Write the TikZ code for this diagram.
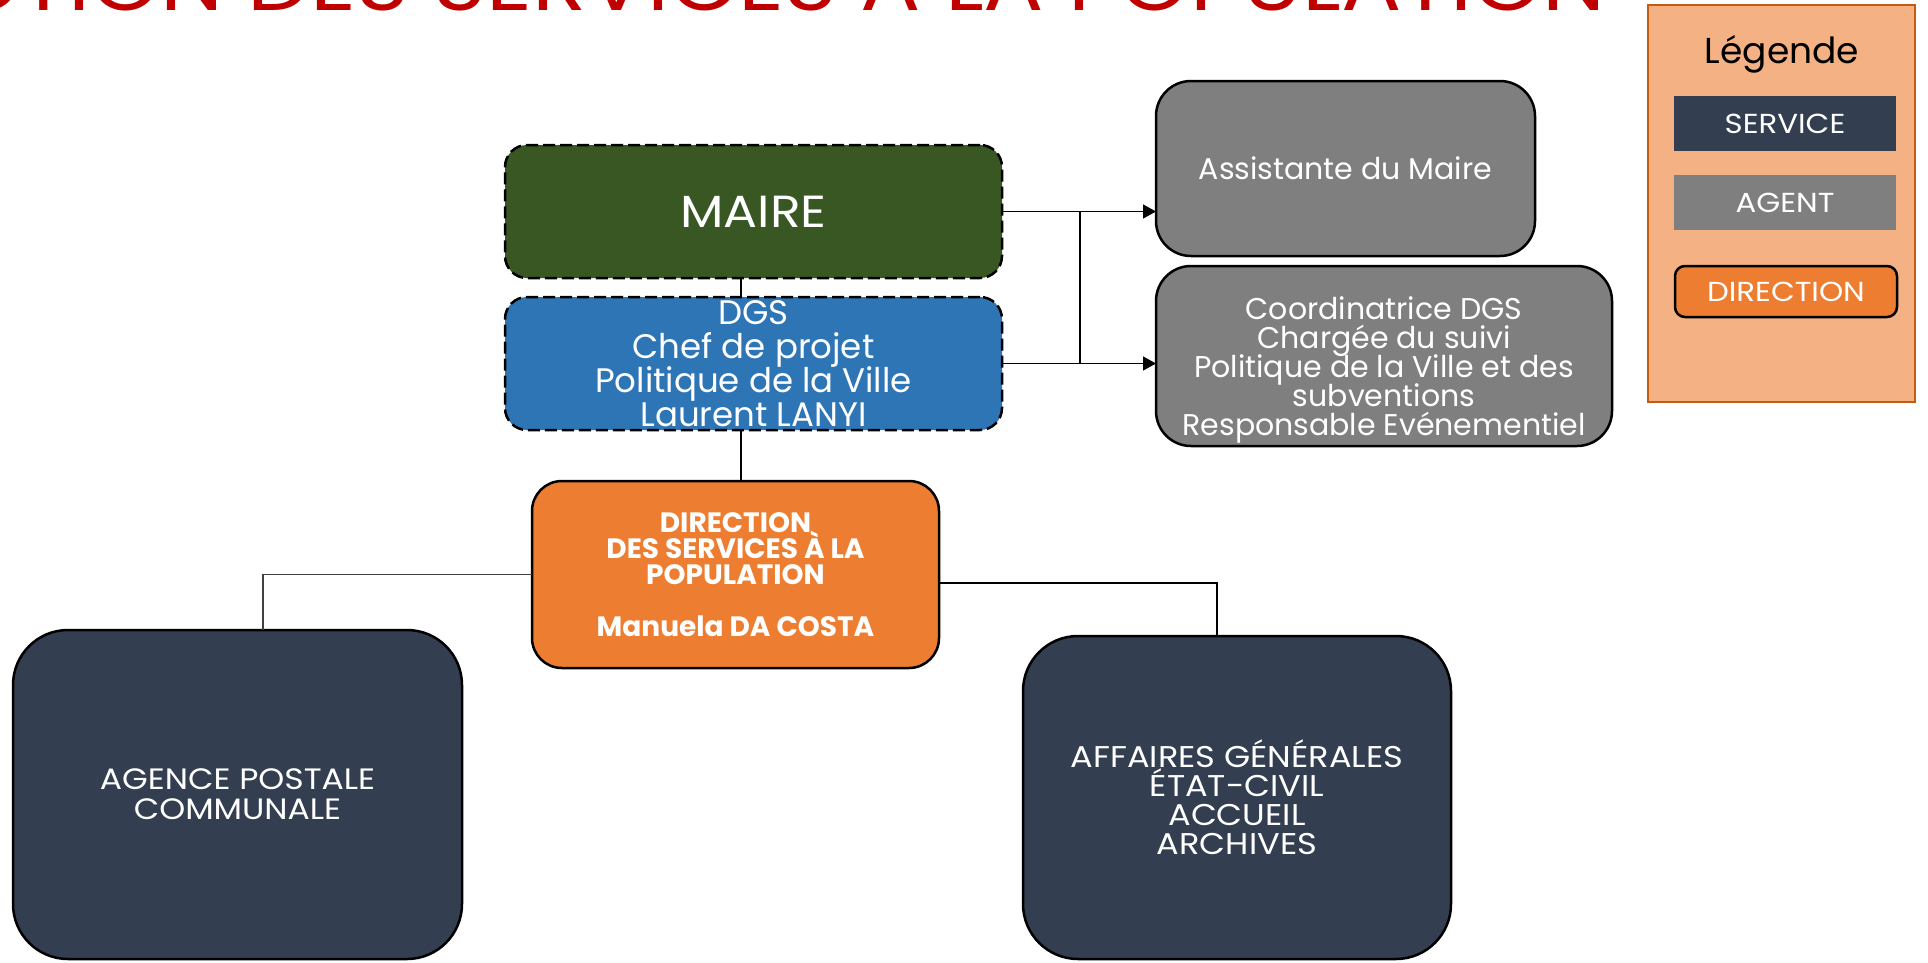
\documentclass[tikz,border=0pt]{standalone}
\usepackage{fontspec}
\setmainfont{Poppins}
\newfontfamily\capsfont[FakeStretch=1.12]{Poppins}
\usetikzlibrary{arrows.meta}
\definecolor{mairegreen}{HTML}{385723}
\definecolor{dgsblue}{HTML}{2E75B6}
\definecolor{agentgray}{HTML}{7F7F7F}
\definecolor{servnavy}{HTML}{333F50}
\definecolor{dirorange}{HTML}{ED7D31}
\definecolor{legfill}{HTML}{F4B183}
\definecolor{legdraw}{HTML}{C55A11}
\definecolor{titlered}{HTML}{C00000}
\definecolor{linkgray}{HTML}{404040}
\newcommand\fsz[2]{\fontsize{#1}{#2}\selectfont\lineskiplimit=-100pt\lineskip=0pt\relax}
\begin{document}
\begin{tikzpicture}[x=1pt,y=-1pt,
  box/.style={draw=black, line width=2.5pt, rounded corners=#1, text=white, align=center, inner sep=0pt, outer sep=0pt},
  box/.default=30pt,
  dashedbox/.style={box=#1, dash pattern=on 12pt off 5pt},
  dashedbox/.default=22pt,
  link/.style={draw=black, line width=1.3pt},
  arrowlink/.style={link, -{Triangle[length=13pt,width=14pt]}},
  legitem/.style={text=white, inner sep=0pt, outer sep=0pt, minimum width=222pt, font=\capsfont\fsz{27.5}{28}},
  boxtext/.style={text=white, align=center, inner sep=0pt},
]
\useasboundingbox (0,0) rectangle (1928,962);
\clip (0,0) rectangle (1928,962);

% title (cut by the top edge)
\node[anchor=base east, text=titlered, inner sep=0pt, font=\capsfont\fsz{80}{80}] (title) at (1606,10) {DIRECTION DES SERVICES À LA POPULATION};

% legend
\node[draw=legdraw, fill=legfill, line width=2.5pt, minimum width=267pt, minimum height=397pt, inner sep=0pt] (legend) at (1781.5,203.5) {};
\node[font=\fsz{36}{36}, inner sep=0pt] (legtitle) at (1782,54) {Légende};
\node[legitem, fill=servnavy, minimum height=55pt] (legserv) at (1785,123.5) {SERVICE};
\node[legitem, fill=agentgray, minimum height=55pt] (legagent) at (1785,202.5) {AGENT};
\node[legitem, fill=dirorange, draw=black, line width=2.5pt, rounded corners=10pt, minimum height=51pt] (legdir) at (1786,291.5) {DIRECTION};

% main boxes
\node[dashedbox=22pt, fill=mairegreen, minimum width=497pt, minimum height=133pt, font=\capsfont\fsz{45}{45}] (maire) at (753.5,211.5) {MAIRE};
\node[dashedbox=22pt, fill=dgsblue, minimum width=497pt, minimum height=133pt, font=\fsz{34}{34}] (dgs) at (753.5,363.5) {DGS\\Chef de projet\\Politique de la Ville\\Laurent LANYI};
\node[box=35pt, fill=agentgray, minimum width=379pt, minimum height=175pt, font=\fsz{30}{30}] (assist) at (1345.5,168.5) {Assistante du Maire};
\node[box=35pt, fill=agentgray, minimum width=456pt, minimum height=180pt] (coord) at (1384,356) {};
\node[boxtext, font=\fsz{30}{29}] (coordtxt) at (1384,370) {Coordinatrice DGS\\Chargée du suivi\\Politique de la Ville et des\\subventions\\Responsable Evénementiel};
\node[box=30pt, fill=dirorange, minimum width=407pt, minimum height=187pt, font=\fsz{28}{26}\bfseries] (dir) at (735.5,574.5) {DIRECTION\\DES SERVICES À LA\\POPULATION\\[26pt]Manuela DA COSTA};
\node[box=55pt, fill=servnavy, minimum width=449pt, minimum height=329pt, font=\capsfont\fsz{29.5}{30}] (agence) at (237.5,794.5) {AGENCE POSTALE\\COMMUNALE};
\node[box=55pt, fill=servnavy, minimum width=428pt, minimum height=323pt, font=\capsfont\fsz{30}{29}] (aff) at (1237,797.5) {AFFAIRES GÉNÉRALES\\ÉTAT-CIVIL\\ACCUEIL\\ARCHIVES};

% connectors
\coordinate (vx) at (741,0);
\coordinate (bx) at (1080,0);
\draw[link] (maire.south -| vx) -- (dgs.north -| vx);
\draw[link] (dgs.south -| vx) -- (dir.north -| vx);
\draw[arrowlink] (maire.east) -- (assist.west |- maire.east);
\draw[arrowlink] (dgs.east) -- (coord.west |- dgs.east);
\draw[link] (maire.east -| bx) -- (dgs.east -| bx);
\draw[link, draw=linkgray, line width=1.8pt] (dir.west) -| ([xshift=25.5pt]agence.north);
\draw[link] ([yshift=-8.5pt]dir.east) -| ([xshift=-20pt]aff.north);
\end{tikzpicture}
\end{document}
